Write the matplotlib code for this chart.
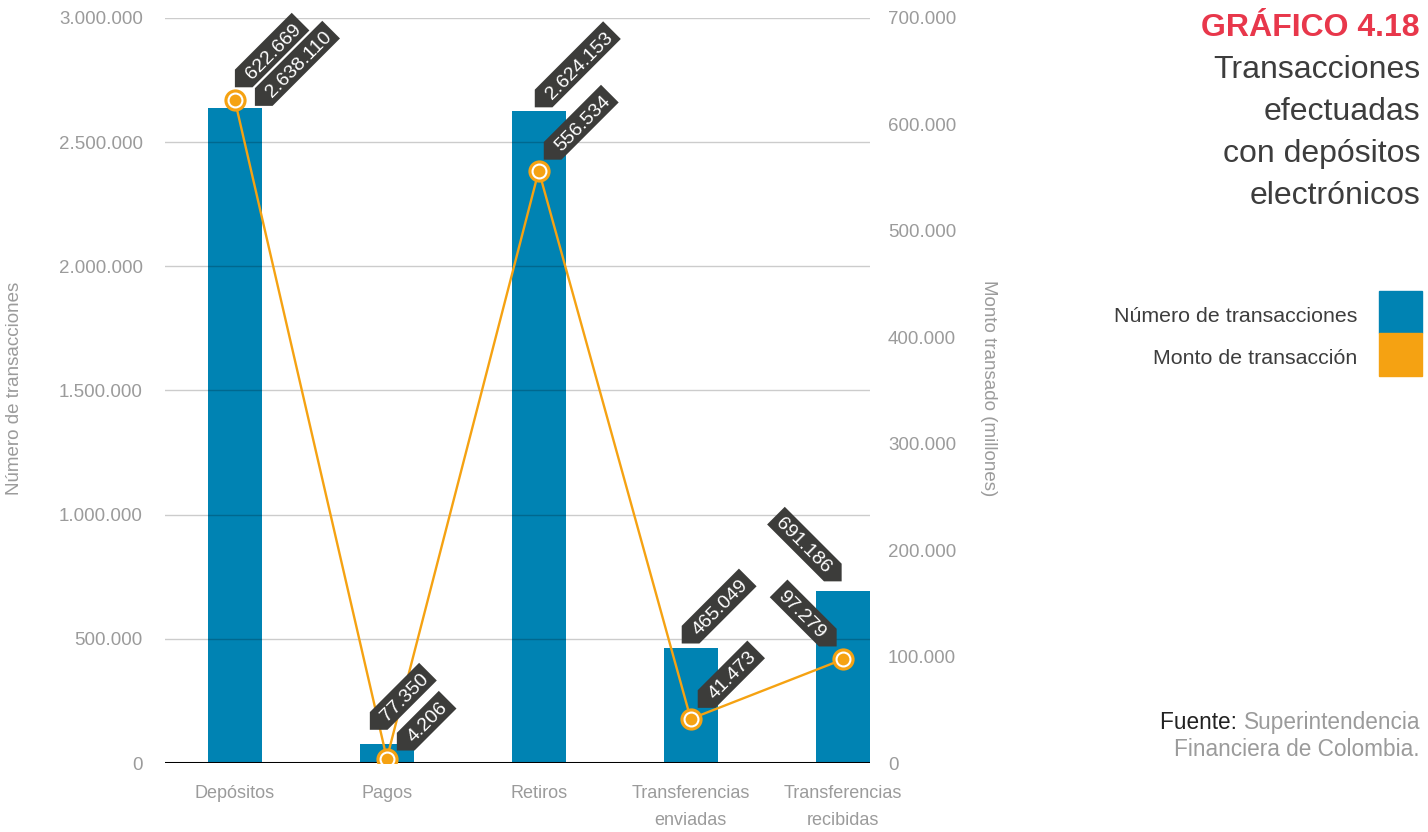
import matplotlib
matplotlib.use("Agg")
import matplotlib.pyplot as plt
import numpy as np
from matplotlib.patches import Polygon, Rectangle
from matplotlib.textpath import TextPath
from matplotlib.font_manager import FontProperties
from matplotlib.transforms import IdentityTransform

plt.rcParams["font.family"] = ["Liberation Sans", "DejaVu Sans"]

categories = ["Depósitos", "Pagos", "Retiros",
              "Transferencias\nenviadas", "Transferencias\nrecibidas"]
n_transacciones = [2638110, 77350, 2624153, 465049, 691186]
monto = [622669, 4206, 556534, 41473, 97279]

left_ticks = [0, 500000, 1000000, 1500000, 2000000, 2500000, 3000000]
right_ticks = [0, 100000, 200000, 300000, 400000, 500000, 600000, 700000]

BLUE = "#0083b3"
ORANGE = "#f5a212"
TAG = "#3c3c3a"
GRAY = "#9b9b9b"
DPI = 100

# tip offset of each tag in pixels (x right, y up) and angle
bar_tags = [((20, 2), 45), ((-17, 14), 45), ((-4, 4), 45), ((-9, 4), 45), ((-1, 10), -45)]
line_tags = [((0, 13), 45), ((10, 8), 45), ((5, 11), 45), ((7, 11), 45), ((-6, 13), -45)]


def fmt(v):
    return f"{v:,}".replace(",", ".")


def tag(ax, trans, x, y, s, off, ang, fs=14):
    px, py = trans.transform((x, y))
    P = np.array([px + off[0], py + off[1]])
    fp = FontProperties(family="Liberation Sans", size=fs)
    tw = TextPath((0, 0), s, prop=fp).get_extents().width * DPI / 72
    w = tw + 12
    h = 25
    th = np.deg2rad(ang)
    d = np.array([np.cos(th), np.sin(th)])
    u = np.array([-np.sin(th), np.cos(th)])
    k = h * abs(np.sin(th))
    if ang > 0:
        BL = P + np.array([k, 0])
        BR = BL + w * d
        TL = BL + h * u
        TR = BR + h * u
        verts = [P, BL, BR, TR, TL]
    else:
        BR = P - np.array([k, 0])
        BL = BR - w * d
        TL = BL + h * u
        TR = BR + h * u
        verts = [P, TR, TL, BL, BR]
    poly = Polygon(verts, closed=True, facecolor=TAG, edgecolor="none",
                   transform=IdentityTransform(), clip_on=False, zorder=10)
    ax.add_artist(poly)
    c = BL + (w / 2) * d + (h / 2) * u
    ax.text(c[0], c[1], s, transform=IdentityTransform(), color="white",
            fontsize=fs, rotation=ang, rotation_mode="anchor",
            ha="center", va="center_baseline", zorder=11, clip_on=False)


def main():
    fig = plt.figure(figsize=(14.28, 8.32), dpi=DPI)
    ax = fig.add_axes([165 / 1428, 1 - 763 / 832, 705 / 1428, 745 / 832])
    ax2 = ax.twinx()

    x = np.arange(len(categories))
    ax.bar(x, n_transacciones, width=0.355, color=BLUE, zorder=1)
    ax.set_xlim(-0.46, 4.18)
    ax.set_ylim(0, 3000000)
    ax.set_yticks(left_ticks)
    ax.set_yticklabels([fmt(v) for v in left_ticks])
    ax.set_xticks(x)
    ax.set_xticklabels(categories, linespacing=1.75)
    ax.set_axisbelow(False)
    ax.yaxis.grid(True, color="black", alpha=0.2, lw=1, zorder=2.5)
    ax.axhline(0, color="black", lw=2.2, zorder=3)

    ax2.plot(x, monto, color=ORANGE, lw=1.7, zorder=4)
    ax2.plot(x, monto, "o", color=ORANGE, ms=16, mew=0, zorder=5)
    ax2.plot(x, monto, "o", mfc=ORANGE, mec="white", ms=10, mew=1.5, zorder=6)
    ax2.set_ylim(0, 700000)
    ax2.set_yticks(right_ticks)
    ax2.set_yticklabels([fmt(v) for v in right_ticks])

    for a in (ax, ax2):
        for sp in a.spines.values():
            sp.set_visible(False)
        a.tick_params(length=0, labelcolor=GRAY, labelsize=13.5)
    ax.tick_params(axis="y", pad=16)
    ax.tick_params(axis="x", pad=16, labelsize=13)
    ax2.tick_params(axis="y", pad=13)

    fig.text(15 / 1428, 1 - 388 / 832, "Número de transacciones", rotation=90,
             ha="center", va="center", color=GRAY, fontsize=13.5)
    fig.text(988 / 1428, 1 - 388 / 832, "Monto transado (millones)", rotation=-90,
             ha="center", va="center", color=GRAY, fontsize=13.5)

    for i in range(len(categories)):
        off, ang = bar_tags[i]
        tag(ax2, ax.transData, x[i], n_transacciones[i], fmt(n_transacciones[i]), off, ang)
        off, ang = line_tags[i]
        tag(ax2, ax2.transData, x[i], monto[i], fmt(monto[i]), off, ang)

    # title block
    R = 1420 / 1428
    fig.text(R, 1 - 36 / 832, "GRÁFICO 4.18", ha="right", va="baseline",
             color="#e8374b", fontsize=23, fontweight="bold")
    for j, line in enumerate(["Transacciones", "efectuadas", "con depósitos", "electrónicos"]):
        fig.text(R, 1 - (78 + 42 * j) / 832, line, ha="right", va="baseline",
                 color="#3d3d3d", fontsize=23)

    # legend
    fig.text(1357 / 1428, 1 - 322 / 832, "Número de transacciones", ha="right",
             va="baseline", color="#3d3d3d", fontsize=15.4)
    fig.text(1357 / 1428, 1 - 364 / 832, "Monto de transacción", ha="right",
             va="baseline", color="#3d3d3d", fontsize=15.4)
    fig.patches.append(Rectangle((1379 / 1428, 1 - 333 / 832), 43 / 1428, 42 / 832,
                                 transform=fig.transFigure, color=BLUE))
    fig.patches.append(Rectangle((1379 / 1428, 1 - 376 / 832), 43 / 1428, 43 / 832,
                                 transform=fig.transFigure, color=ORANGE))

    # source
    t = fig.text(R, 1 - 729 / 832, "Superintendencia", ha="right", va="baseline",
                 color=GRAY, fontsize=16.3)
    fig.text(R, 1 - 756 / 832, "Financiera de Colombia.", ha="right", va="baseline",
             color=GRAY, fontsize=16.3)
    ax2.annotate("Fuente: ", xy=(0, 0), xycoords=t, ha="right", va="bottom",
                 color="#222222", fontsize=16.3, annotation_clip=False)

    fig.savefig("out.png", dpi=DPI)


if __name__ == "__main__":
    main()
